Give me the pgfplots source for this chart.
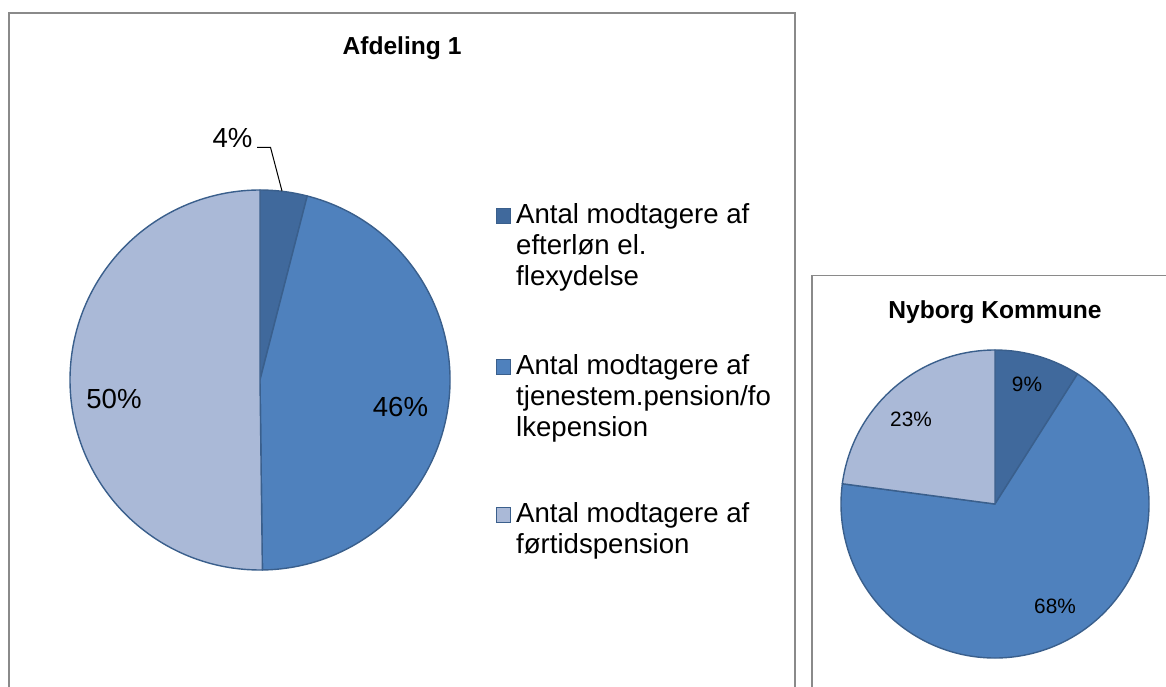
\documentclass[border=0pt]{standalone}
\usepackage{pgfplots}
\usepackage{pgfplotstable}
\pgfplotsset{compat=1.18}
\usepackage{fontspec}
\setmainfont{Liberation Sans}
\definecolor{sA}{HTML}{40699C}
\definecolor{sB}{HTML}{4F81BD}
\definecolor{sC}{HTML}{AAB9D7}
\definecolor{edge}{HTML}{3A5F8C}
\definecolor{frame}{HTML}{8A8A8A}

\pgfplotstableread{
share
4.0
45.8
50.2
}\afdeling
\pgfplotstableread{
share
9.0
68.1
22.9
}\nyborg

\pgfplotstablegetelem{0}{share}\of\afdeling \pgfmathsetmacro\afdA{90-3.6*\pgfplotsretval}%
\pgfplotstablegetelem{1}{share}\of\afdeling \pgfmathsetmacro\afdB{\afdA-3.6*\pgfplotsretval}%
\pgfplotstablegetelem{2}{share}\of\afdeling \pgfmathsetmacro\afdC{\afdB-3.6*\pgfplotsretval}%
\pgfplotstablegetelem{0}{share}\of\nyborg \pgfmathsetmacro\nyA{90-3.6*\pgfplotsretval}%
\pgfplotstablegetelem{1}{share}\of\nyborg \pgfmathsetmacro\nyB{\nyA-3.6*\pgfplotsretval}%
\pgfplotstablegetelem{2}{share}\of\nyborg \pgfmathsetmacro\nyC{\nyB-3.6*\pgfplotsretval}%

\begin{document}%
\begin{tikzpicture}
\path[use as bounding box] (0,0) rectangle (1166bp,687bp);
\begin{axis}[x=1bp, y=1bp, xmin=0, xmax=1166, ymin=0, ymax=687,
  hide axis, clip=false, anchor=origin, at={(0,0)}]
% frames
\draw[frame, line width=1.3bp] (axis cs:9,-5) -- (axis cs:9,674) -- (axis cs:795,674) -- (axis cs:795,-5);
\draw[frame, line width=1.3bp] (axis cs:812,-5) -- (axis cs:812,411.5) -- (axis cs:1175,411.5);
% titles
\node[anchor=base, inner sep=0pt, font=\fontsize{24.6bp}{28bp}\selectfont\bfseries] at (axis cs:402,632) {Afdeling 1};
\node[anchor=base, inner sep=0pt, font=\fontsize{24.6bp}{28bp}\selectfont\bfseries] at (axis cs:995,368) {Nyborg Kommune};
% Afdeling 1 pie
\filldraw[fill=sA, draw=edge, line width=1.4bp, line join=round] (axis cs:260,307) -- ++(90:190bp) arc[start angle=90, end angle=\afdA, radius=190bp] -- cycle;
\filldraw[fill=sB, draw=edge, line width=1.4bp, line join=round] (axis cs:260,307) -- ++(\afdA:190bp) arc[start angle=\afdA, end angle=\afdB, radius=190bp] -- cycle;
\filldraw[fill=sC, draw=edge, line width=1.4bp, line join=round] (axis cs:260,307) -- ++(\afdB:190bp) arc[start angle=\afdB, end angle=\afdC, radius=190bp] -- cycle;
% Nyborg pie
\filldraw[fill=sA, draw=edge, line width=1.4bp, line join=round] (axis cs:995,183) -- ++(90:154bp) arc[start angle=90, end angle=\nyA, radius=154bp] -- cycle;
\filldraw[fill=sB, draw=edge, line width=1.4bp, line join=round] (axis cs:995,183) -- ++(\nyA:154bp) arc[start angle=\nyA, end angle=\nyB, radius=154bp] -- cycle;
\filldraw[fill=sC, draw=edge, line width=1.4bp, line join=round] (axis cs:995,183) -- ++(\nyB:154bp) arc[start angle=\nyB, end angle=\nyC, radius=154bp] -- cycle;
% Afdeling labels
\begin{scope}[every node/.style={anchor=base, inner sep=0pt, font=\fontsize{27.6bp}{31bp}\selectfont}]
\node at (axis cs:232.5,539) {4\%};
\node at (axis cs:114,278) {50\%};
\node at (axis cs:400.5,270) {46\%};
\end{scope}
\draw[black, line width=1bp] (axis cs:257,539.7) -- (axis cs:270.5,539.7) -- (axis cs:282,496);
% Nyborg labels
\begin{scope}[every node/.style={anchor=base, inner sep=0pt, font=\fontsize{20.8bp}{24bp}\selectfont}]
\node at (axis cs:1027,295.5) {9\%};
\node at (axis cs:911,260) {23\%};
\node at (axis cs:1055,73) {68\%};
\end{scope}
% legend
\begin{scope}[every node/.style={anchor=base west, inner sep=0pt, font=\fontsize{27.6bp}{31bp}\selectfont}]
\filldraw[fill=sA, draw=edge, line width=0.6bp] (axis cs:496,464) rectangle (axis cs:510.5,478.5);
\node at (axis cs:516,463) {Antal modtagere af};
\node at (axis cs:516,432) {efterløn el.};
\node at (axis cs:516,401) {flexydelse};
\filldraw[fill=sB, draw=edge, line width=0.6bp] (axis cs:496,313) rectangle (axis cs:510.5,327.5);
\node at (axis cs:516,312) {Antal modtagere af};
\node at (axis cs:516,281) {tjenestem.pension/fo};
\node at (axis cs:516,250) {lkepension};
\filldraw[fill=sC, draw=edge, line width=0.6bp] (axis cs:496,165) rectangle (axis cs:510.5,179.5);
\node at (axis cs:516,164) {Antal modtagere af};
\node at (axis cs:516,133) {førtidspension};
\end{scope}
\end{axis}
\end{tikzpicture}%
\end{document}
